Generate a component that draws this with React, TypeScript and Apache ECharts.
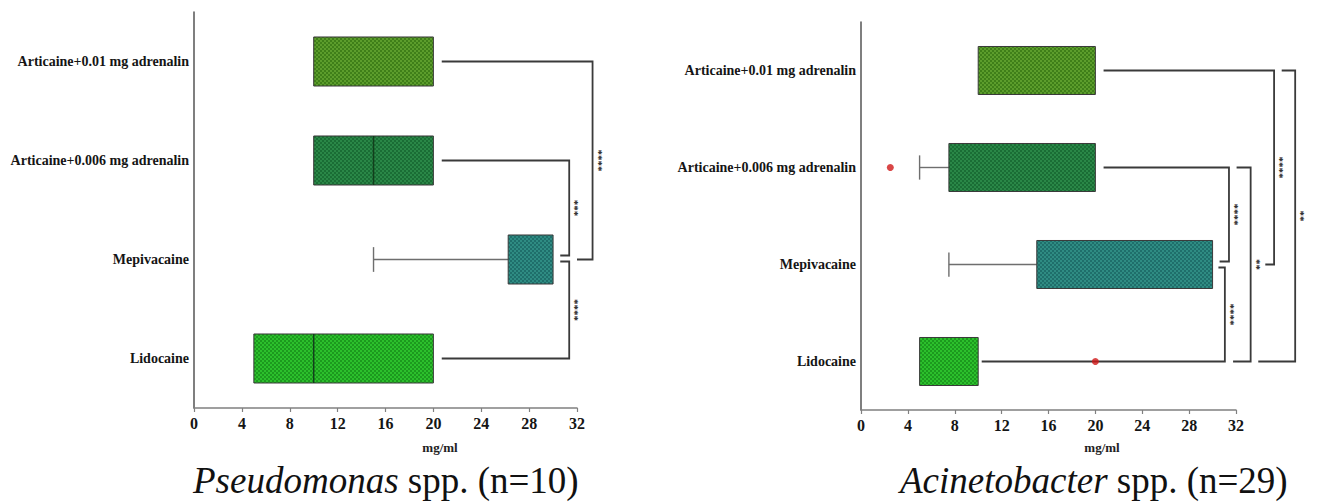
import React, { useEffect, useRef } from "react";
import * as echarts from "echarts";

// Categories, bottom to top
const categories = [
  "Lidocaine",
  "Mepivacaine",
  "Articaine+0.006 mg adrenalin",
  "Articaine+0.01 mg adrenalin",
];

const xMin = 0;
const xMax = 32;
const xInterval = 4;

// [min, q1, median, q3, max] per category (same order as categories)
const pseudomonasBoxes = [
  [5, 5, 10, 20, 20],
  [15, 26.25, 30, 30, 30],
  [10, 10, 15, 20, 20],
  [10, 10, 20, 20, 20],
];
const acinetobacterBoxes = [
  [5, 5, 10, 10, 10],
  [7.5, 15, 30, 30, 30],
  [5, 7.5, 20, 20, 20],
  [10, 10, 20, 20, 20],
];
// [value, categoryIndex]
const acinetobacterOutliers = [
  [20, 0],
  [2.5, 2],
];

// Significance brackets: [upperCategory, lowerCategory, upperArmStart, lowerArmEnd, verticalX]
const pseudomonasBrackets = [
  [3, 1, 20.7, 32.0, 33.3],
  [2, 1, 20.7, 30.6, 31.35],
  [1, 0, 30.6, 20.7, 31.35],
];
const pseudomonasStars = ["****", "***", "****"];
const acinetobacterBrackets = [
  [2, 1, 20.7, 30.6, 31.4],
  [1, 0, 30.5, 10.3, 31.05],
  [2, 0, 32.05, 31.75, 33.25],
  [3, 1, 20.7, 34.5, 35.25],
  [3, 0, 35.9, 33.9, 37.05],
];
const acinetobacterStars = ["****", "****", "**", "****", "**"];

// pixel nudges of [upper arm, lower arm] so that arms meeting at one category don't touch
const pseudomonasNudge = [[0, 0], [0, -4], [2, 0]];
const acinetobacterNudge = [[0, -3], [3, 0], [0, 0], [0, 0], [0, 0]];

const boxColors = [
  ["#2cc02c", "#1c9a1e"],
  ["#1f6f6b", "#2f8c83"],
  ["#1a6d35", "#2a8747"],
  ["#3f7f19", "#5c9d2c"],
];

const SERIF = "'Liberation Serif', 'Times New Roman', serif";

function makePattern(base: string, dot: string) {
  const c = document.createElement("canvas");
  c.width = 4;
  c.height = 4;
  const ctx = c.getContext("2d")!;
  ctx.fillStyle = base;
  ctx.fillRect(0, 0, 4, 4);
  ctx.fillStyle = dot;
  ctx.fillRect(0, 0, 2, 2);
  ctx.fillRect(2, 2, 2, 2);
  return { image: c.toDataURL(), repeat: "repeat", imageWidth: 4, imageHeight: 4 };
}

export default function App() {
  const ref = useRef<HTMLDivElement>(null);

  useEffect(() => {
    document.body.style.margin = "0";
    if (!ref.current) return;
    const chart = echarts.init(ref.current, undefined, { renderer: "svg" });
    const patterns = boxColors.map(([a, b]) => makePattern(a, b));

    const boxRender = (params: any, api: any) => {
      const cat = api.value(0);
      const mn = api.value(1);
      const q1 = api.value(2);
      const md = api.value(3);
      const q3 = api.value(4);
      const mx = api.value(5);
      const band = api.size([0, 1])[1];
      const h = band * 0.495;
      const cap = band * 0.25;
      const p1 = api.coord([q1, cat]);
      const p3 = api.coord([q3, cat]);
      const pm = api.coord([md, cat]);
      const pmin = api.coord([mn, cat]);
      const pmax = api.coord([mx, cat]);
      const cy = p1[1];
      const children: any[] = [];
      const whiskerStyle = { stroke: "#6e6e6e", lineWidth: 1.4 };
      if (mn < q1) {
        children.push({ type: "line", shape: { x1: pmin[0], y1: cy, x2: p1[0], y2: cy }, style: whiskerStyle });
        children.push({ type: "line", shape: { x1: pmin[0], y1: cy - cap / 2, x2: pmin[0], y2: cy + cap / 2 }, style: whiskerStyle });
      }
      if (mx > q3) {
        children.push({ type: "line", shape: { x1: p3[0], y1: cy, x2: pmax[0], y2: cy }, style: whiskerStyle });
        children.push({ type: "line", shape: { x1: pmax[0], y1: cy - cap / 2, x2: pmax[0], y2: cy + cap / 2 }, style: whiskerStyle });
      }
      children.push({
        type: "rect",
        shape: { x: p1[0], y: cy - h / 2, width: p3[0] - p1[0], height: h },
        style: { fill: patterns[cat], stroke: "#3a3a3a", lineWidth: 1 },
      });
      if (md > q1 && md < q3) {
        children.push({
          type: "line",
          shape: { x1: pm[0], y1: cy - h / 2, x2: pm[0], y2: cy + h / 2 },
          style: { stroke: "#123f1c", lineWidth: 1.5 },
        });
      }
      return { type: "group", children };
    };

    const makeBracketRender = (stars: string[], nudge: number[][]) => (params: any, api: any) => {
      const i = params.dataIndex;
      const uc = api.value(0);
      const lc = api.value(1);
      const xs = api.value(2);
      const xe = api.value(3);
      const xv = api.value(4);
      const a = api.coord([xs, uc]);
      const b = api.coord([xe, lc]);
      const v = api.coord([xv, uc]);
      const y1 = a[1] + nudge[i][0];
      const y2 = b[1] + nudge[i][1];
      return {
        type: "group",
        children: [
          {
            type: "polyline",
            shape: { points: [[a[0], y1], [v[0], y1], [v[0], y2], [b[0], y2]] },
            style: { stroke: "#3a3a3a", lineWidth: 1.8, fill: "none" },
          },
          {
            type: "text",
            x: v[0] + 8,
            y: (y1 + y2) / 2,
            rotation: Math.PI / 2,
            style: {
              text: stars[i],
              fill: "#1a1a1a",
              fontSize: 11,
              fontWeight: "bold",
              fontFamily: SERIF,
              align: "center",
              verticalAlign: "middle",
            },
          },
        ],
      };
    };

    const xAxisCommon = {
      type: "value",
      min: xMin,
      max: xMax,
      interval: xInterval,
      axisLine: { show: true, lineStyle: { color: "#808080", width: 1.5 } },
      axisTick: { show: true, length: 4, lineStyle: { color: "#808080", width: 1.2 } },
      splitLine: { show: false },
      axisLabel: {
        color: "#151515",
        fontFamily: SERIF,
        fontWeight: "bold",
        fontSize: 16,
        margin: 7,
      },
    };
    const yAxisCommon = {
      type: "category",
      data: categories,
      axisLine: { show: true, lineStyle: { color: "#555555", width: 1.5 } },
      axisTick: { show: false },
      splitLine: { show: false },
      axisLabel: {
        color: "#151515",
        fontFamily: SERIF,
        fontWeight: "bold",
        fontSize: 14,
        margin: 5,
      },
    };

    chart.setOption({
      animation: false,
      grid: [
        { left: 194, top: 12, width: 383, height: 396 },
        { left: 861, top: 22, width: 375, height: 388 },
      ],
      xAxis: [
        { ...xAxisCommon, gridIndex: 0 },
        { ...xAxisCommon, gridIndex: 1 },
      ],
      yAxis: [
        { ...yAxisCommon, gridIndex: 0 },
        { ...yAxisCommon, gridIndex: 1 },
      ],
      series: [
        {
          type: "custom",
          xAxisIndex: 0,
          yAxisIndex: 0,
          renderItem: boxRender,
          encode: { x: [1, 2, 3, 4, 5], y: 0 },
          data: pseudomonasBoxes.map((b, i) => [i, ...b]),
        },
        {
          type: "custom",
          xAxisIndex: 1,
          yAxisIndex: 1,
          renderItem: boxRender,
          encode: { x: [1, 2, 3, 4, 5], y: 0 },
          data: acinetobacterBoxes.map((b, i) => [i, ...b]),
        },
        {
          type: "custom",
          xAxisIndex: 0,
          yAxisIndex: 0,
          clip: false,
          renderItem: makeBracketRender(pseudomonasStars, pseudomonasNudge),
          encode: { x: [2, 3, 4], y: [0, 1] },
          data: pseudomonasBrackets,
          z: 3,
        },
        {
          type: "custom",
          xAxisIndex: 1,
          yAxisIndex: 1,
          clip: false,
          renderItem: makeBracketRender(acinetobacterStars, acinetobacterNudge),
          encode: { x: [2, 3, 4], y: [0, 1] },
          data: acinetobacterBrackets,
          z: 3,
        },
        {
          type: "scatter",
          xAxisIndex: 1,
          yAxisIndex: 1,
          symbol: "circle",
          symbolSize: 7,
          itemStyle: { color: "#d01818" },
          data: acinetobacterOutliers,
          z: 5,
        },
      ],
      graphic: [
        {
          type: "text",
          x: 440,
          y: 447,
          style: {
            text: "mg/ml",
            fill: "#222",
            fontFamily: SERIF,
            fontWeight: "bold",
            fontSize: 13,
            align: "center",
            verticalAlign: "middle",
          },
        },
        {
          type: "text",
          x: 1102,
          y: 447,
          style: {
            text: "mg/ml",
            fill: "#222",
            fontFamily: SERIF,
            fontWeight: "bold",
            fontSize: 13,
            align: "center",
            verticalAlign: "middle",
          },
        },
        {
          type: "text",
          x: 193,
          y: 480,
          style: {
            text: "{i|Pseudomonas} spp. (n=10)",
            fill: "#111",
            fontFamily: SERIF,
            fontSize: 37,
            align: "left",
            verticalAlign: "middle",
            rich: { i: { fontStyle: "italic", fontFamily: SERIF, fontSize: 37, fill: "#111" } },
          },
        },
        {
          type: "text",
          x: 900,
          y: 480,
          style: {
            text: "{i|Acinetobacter} spp. (n=29)",
            fill: "#111",
            fontFamily: SERIF,
            fontSize: 37,
            align: "left",
            verticalAlign: "middle",
            rich: { i: { fontStyle: "italic", fontFamily: SERIF, fontSize: 37, fill: "#111" } },
          },
        },
      ],
    });

    return () => chart.dispose();
  }, []);

  return <div ref={ref} style={{ width: 1320, height: 502 }} />;
}
